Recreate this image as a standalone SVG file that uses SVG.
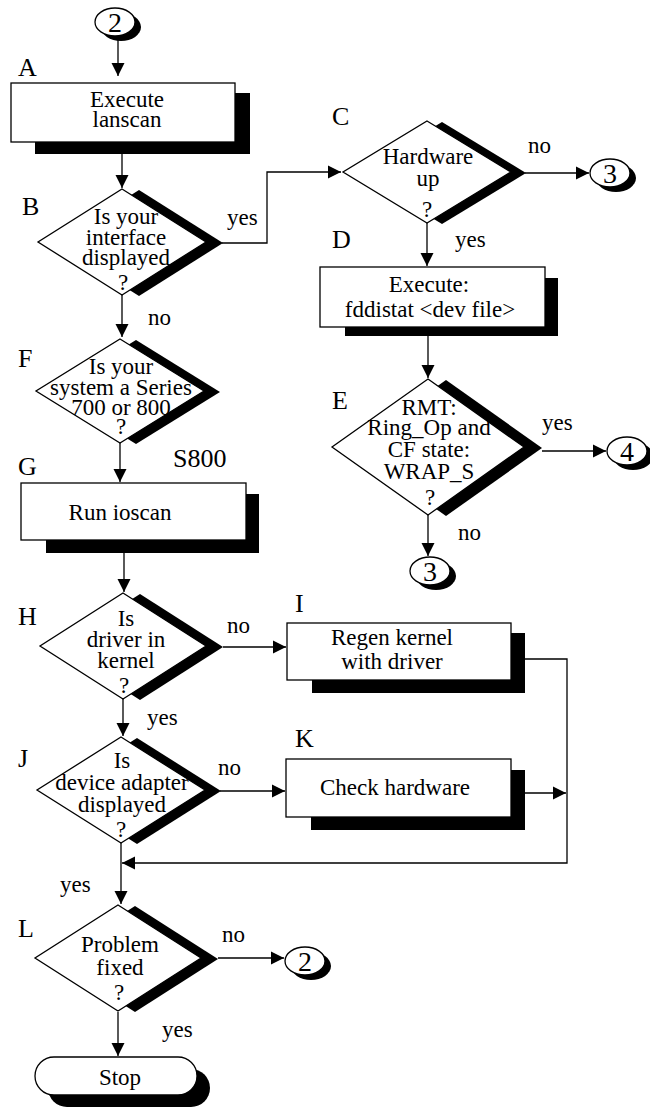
<svg xmlns="http://www.w3.org/2000/svg" width="650" height="1107" viewBox="0 0 650 1107" font-family="'Liberation Serif', 'Times New Roman', serif">
<defs>
<marker id="ah" viewBox="0 0 10 10" refX="10" refY="5" markerWidth="13" markerHeight="14" markerUnits="userSpaceOnUse" orient="auto"><path d="M0,0 L10,5 L0,10 z" fill="#000"/></marker>
</defs>
<style>
text{font-family:'Liberation Serif','Times New Roman',serif;fill:#000}
.t{font-size:23px;text-anchor:middle}
.lbl{font-size:26px}
.cl{font-size:23px}
.num{font-size:28px;text-anchor:middle}
.box{fill:#fff;stroke:#000;stroke-width:1.3}
.sh{fill:#000}
.arr{fill:none;stroke:#000;stroke-width:1.3;marker-end:url(#ah)}
</style>
<rect width="650" height="1107" fill="#fff"/>

<g id="connectors">
<line class="arr" x1="118" y1="36" x2="118" y2="76"/>
<line class="arr" x1="122" y1="154" x2="122" y2="188"/>
<polyline class="arr" points="222,243 267,243 267,172 341,172"/>
<line class="arr" x1="525" y1="173" x2="589" y2="173"/>
<line class="arr" x1="427" y1="223" x2="427" y2="266"/>
<line class="arr" x1="428" y1="336" x2="428" y2="378"/>
<line class="arr" x1="542" y1="451" x2="606" y2="451"/>
<line class="arr" x1="428" y1="515" x2="428" y2="556"/>
<line class="arr" x1="122" y1="295" x2="122" y2="337"/>
<line class="arr" x1="120" y1="443" x2="120" y2="482"/>
<line class="arr" x1="124" y1="553" x2="124" y2="592"/>
<line class="arr" x1="223" y1="647" x2="286" y2="647"/>
<line class="arr" x1="123" y1="698" x2="123" y2="736"/>
<line class="arr" x1="220" y1="791" x2="285" y2="791"/>
<polyline class="arr" points="525,659 567,659 567,863 122,863"/>
<line class="arr" x1="525" y1="793" x2="566" y2="793"/>
<line class="arr" x1="121" y1="843" x2="121" y2="904"/>
<line class="arr" x1="218" y1="958" x2="284" y2="958"/>
<line class="arr" x1="118" y1="1012" x2="118" y2="1056"/>
<text class="cl" x="227" y="225">yes</text>
<text class="cl" x="148" y="325">no</text>
<text class="cl" x="528" y="153">no</text>
<text class="cl" x="455" y="247">yes</text>
<text class="cl" x="542" y="430">yes</text>
<text class="cl" x="458" y="540">no</text>
<text class="lbl" x="173" y="467">S800</text>
<text class="cl" x="227" y="633">no</text>
<text class="cl" x="147" y="725">yes</text>
<text class="cl" x="218" y="775">no</text>
<text class="cl" x="60" y="892">yes</text>
<text class="cl" x="222" y="942">no</text>
<text class="cl" x="162" y="1037">yes</text>
</g>

<g id="start2">
<ellipse class="sh" cx="121" cy="27" rx="20" ry="14"/>
<ellipse class="box" cx="115" cy="22" rx="20" ry="14"/>
<text class="num" x="115" y="32">2</text>
</g>

<g id="A">
<text class="lbl" x="18" y="76">A</text>
<rect class="sh" x="35" y="93" width="215" height="61"/>
<rect class="box" x="11" y="83" width="224" height="59"/>
<text class="t" x="127" y="107">Execute</text>
<text class="t" x="127" y="127">lanscan</text>
</g>

<g id="B">
<text class="lbl" x="22" y="215">B</text>
<polygon class="sh" points="139,190 223,243 139,296 55,243"/>
<polygon class="box" points="122,189 206,242 122,295 38,242"/>
<text class="t" x="126" y="224">Is your</text>
<text class="t" x="126" y="245">interface</text>
<text class="t" x="126" y="265">displayed</text>
<text class="t" x="123" y="290">?</text>
</g>

<g id="C">
<text class="lbl" x="332" y="125">C</text>
<polygon class="sh" points="442,122 526,173 442,224 358,173"/>
<polygon class="box" points="427,121 511,172 427,223 343,172"/>
<text class="t" x="428" y="164">Hardware</text>
<text class="t" x="428" y="186">up</text>
<text class="t" x="427" y="217">?</text>
</g>

<g id="conn3a">
<ellipse class="sh" cx="616" cy="178" rx="20" ry="14"/>
<ellipse class="box" cx="610" cy="173" rx="20" ry="14"/>
<text class="num" x="610" y="183">3</text>
</g>

<g id="D">
<text class="lbl" x="332" y="248">D</text>
<rect class="sh" x="345" y="278" width="213" height="58"/>
<rect class="box" x="320" y="267" width="225" height="60"/>
<text class="t" x="429" y="292">Execute:</text>
<text class="t" x="430" y="317">fddistat &lt;dev file&gt;</text>
</g>

<g id="E">
<text class="lbl" x="332" y="409">E</text>
<polygon class="sh" points="446,380 542,448 446,516 350,448"/>
<polygon class="box" points="428,379 524,447 428,515 332,447"/>
<text class="t" x="429" y="415">RMT:</text>
<text class="t" x="429" y="435">Ring_Op and</text>
<text class="t" x="429" y="457">CF state:</text>
<text class="t" x="429" y="479">WRAP_S</text>
<text class="t" x="430" y="505">?</text>
</g>

<g id="conn4">
<ellipse class="sh" cx="633" cy="456" rx="20" ry="14"/>
<ellipse class="box" cx="627" cy="451" rx="20" ry="14"/>
<text class="num" x="627" y="461">4</text>
</g>

<g id="conn3b">
<ellipse class="sh" cx="436" cy="576" rx="20" ry="14"/>
<ellipse class="box" cx="430" cy="571" rx="20" ry="14"/>
<text class="num" x="430" y="581">3</text>
</g>

<g id="F">
<text class="lbl" x="18" y="367">F</text>
<polygon class="sh" points="136,340 220,392 136,444 52,392"/>
<polygon class="box" points="120,339 204,391 120,443 36,391"/>
<text class="t" x="121" y="374">Is your</text>
<text class="t" x="121" y="395">system a Series</text>
<text class="t" x="121" y="415">700 or 800</text>
<text class="t" x="121" y="434">?</text>
</g>

<g id="G">
<text class="lbl" x="18" y="475">G</text>
<rect class="sh" x="46" y="494" width="213" height="59"/>
<rect class="box" x="21" y="483" width="225" height="57"/>
<text class="t" x="120" y="520">Run ioscan</text>
</g>

<g id="H">
<text class="lbl" x="18" y="625">H</text>
<polygon class="sh" points="140,594 223,647 140,700 57,647"/>
<polygon class="box" points="123,593 206,646 123,699 40,646"/>
<text class="t" x="126" y="626">Is</text>
<text class="t" x="126" y="647">driver in</text>
<text class="t" x="126" y="668">kernel</text>
<text class="t" x="124" y="693">?</text>
</g>

<g id="I">
<text class="lbl" x="295" y="612">I</text>
<rect class="sh" x="312" y="633" width="213" height="60"/>
<rect class="box" x="287" y="623" width="224" height="57"/>
<text class="t" x="392" y="645">Regen kernel</text>
<text class="t" x="392" y="669">with driver</text>
</g>

<g id="J">
<text class="lbl" x="18" y="767">J</text>
<polygon class="sh" points="137,738 221,791 137,844 53,791"/>
<polygon class="box" points="121,737 205,790 121,843 37,790"/>
<text class="t" x="122" y="768">Is</text>
<text class="t" x="122" y="790">device adapter</text>
<text class="t" x="122" y="812">displayed</text>
<text class="t" x="121" y="837">?</text>
</g>

<g id="K">
<text class="lbl" x="295" y="747">K</text>
<rect class="sh" x="311" y="770" width="214" height="60"/>
<rect class="box" x="286" y="759" width="225" height="58"/>
<text class="t" x="395" y="795">Check hardware</text>
</g>

<g id="L">
<text class="lbl" x="18" y="937">L</text>
<polygon class="sh" points="135,906 218,959 135,1012 52,959"/>
<polygon class="box" points="118,905 201,958 118,1011 35,958"/>
<text class="t" x="120" y="952">Problem</text>
<text class="t" x="120" y="975">fixed</text>
<text class="t" x="119" y="1000">?</text>
</g>

<g id="conn2b">
<ellipse class="sh" cx="311" cy="966" rx="20" ry="14"/>
<ellipse class="box" cx="305" cy="961" rx="20" ry="14"/>
<text class="num" x="305" y="971">2</text>
</g>

<g id="Stop">
<rect class="sh" x="48" y="1069" width="162" height="38" rx="19"/>
<rect class="box" x="35" y="1057" width="162" height="38" rx="19"/>
<text class="t" x="120" y="1085">Stop</text>
</g>
</svg>
